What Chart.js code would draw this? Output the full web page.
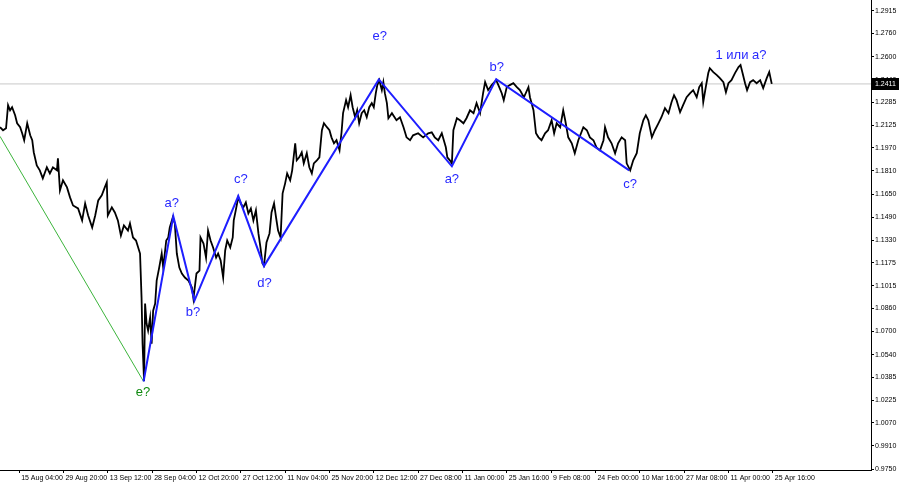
<!DOCTYPE html>
<html>
<head>
<meta charset="utf-8">
<script src="https://cdn.jsdelivr.net/npm/chart.js@4.4.1/dist/chart.umd.min.js"></script>
<style>
  html, body { margin: 0; padding: 0; background: #fff; }
  #chart { display: block; }
</style>
</head>
<body>
<canvas id="chart" width="900" height="485"></canvas>
<script>
// H4 bars counted from the left edge of the chart
const bars = [
    0, 6, 12, 16, 20, 24, 30, 34, 40, 44, 48, 54, 60, 64, 67, 73, 79, 85, 93, 99,
    105, 113, 115, 119, 125, 133, 139, 145, 155, 163, 169, 175, 183, 189, 195, 202, 208, 212, 214, 222,
    228, 234, 240, 246, 254, 258, 264, 270, 278, 281, 283, 286, 288, 291, 294, 298, 301, 304, 308, 311,
    316, 321, 324, 330, 334, 337, 343, 347, 351, 356, 361, 367, 374, 381, 384, 390, 396, 398, 404, 409,
    413, 418, 423, 429, 433, 438, 443, 447, 451, 457, 462, 464, 468, 473, 478, 483, 488, 493, 498, 503,
    508, 513, 517, 521, 524, 529, 535, 539, 544, 548, 552, 557, 561, 566, 570, 576, 580, 586, 589, 594,
    599, 603, 609, 614, 619, 623, 629, 634, 639, 643, 649, 654, 658, 663, 668, 674, 678, 681, 687, 691,
    696, 700, 705, 709, 713, 718, 723, 728, 733, 738, 742, 746, 749, 753, 758, 761, 764, 768, 771, 778,
    787, 794, 801, 807, 814, 820, 830, 840, 850, 857, 863, 870, 877, 881, 885, 888, 893, 897, 900, 907,
    913, 920, 926, 933, 940, 946, 953, 959, 963, 969, 976, 985, 991, 996, 1000, 1006, 1012, 1019, 1026, 1032,
    1040, 1049, 1052, 1059, 1064, 1069, 1075, 1082, 1088, 1095, 1100, 1105, 1112, 1118, 1122, 1128, 1135, 1141, 1148, 1158,
    1165, 1171, 1178, 1184, 1191, 1198, 1201, 1207, 1214, 1221, 1227, 1234, 1241, 1244, 1251, 1257, 1264, 1270, 1277, 1282,
    1287, 1294, 1300, 1307, 1313, 1320, 1327, 1333, 1338, 1343, 1350, 1356, 1363, 1370, 1376, 1383, 1388, 1393, 1396, 1401,
    1406, 1409, 1416, 1423, 1429, 1436, 1441, 1446, 1452, 1459, 1466, 1470, 1474, 1479, 1483, 1489, 1495, 1502, 1509, 1515,
    1522, 1527, 1532
];
const closes = [
    1.2112, 1.2091, 1.2105, 1.2264, 1.2229, 1.2250, 1.2195, 1.2139, 1.2112, 1.2070, 1.2022, 1.2139, 1.2056, 1.2022, 1.1939, 1.1848, 1.1814, 1.1758, 1.1835, 1.1793,
    1.1835, 1.1814, 1.1897, 1.1675, 1.1745, 1.1696, 1.1627, 1.1571, 1.1551, 1.1468, 1.1585, 1.1502, 1.1419, 1.1502, 1.1606, 1.1641, 1.1696, 1.1731, 1.1502, 1.1558,
    1.1523, 1.1468, 1.1364, 1.1433, 1.1398, 1.1447, 1.1350, 1.1329, 1.1239, 1.0934, 1.0616, 1.0359, 1.0893, 1.0754, 1.0706, 1.0796, 1.0616, 1.0844, 1.0893, 1.1052,
    1.1142, 1.1239, 1.1142, 1.1329, 1.1350, 1.1419, 1.1488, 1.1447, 1.1239, 1.1142, 1.1101, 1.1073, 1.1052, 1.1004, 1.0927, 1.1101, 1.1121, 1.1350, 1.1308, 1.1211,
    1.1398, 1.1329, 1.1281, 1.1211, 1.1239, 1.1191, 1.1073, 1.1260, 1.1329, 1.1281, 1.1350, 1.1468, 1.1537, 1.1627, 1.1585, 1.1558, 1.1592, 1.1516, 1.1551, 1.1468,
    1.1537, 1.1378, 1.1281, 1.1170, 1.1156, 1.1315, 1.1378, 1.1523, 1.1585, 1.1488, 1.1398, 1.1350, 1.1655, 1.1724, 1.1793, 1.1745, 1.1814, 1.2001, 1.1883, 1.1904,
    1.1939, 1.1862, 1.1932, 1.1835, 1.1793, 1.1862, 1.1883, 1.1904, 1.2091, 1.2139, 1.2112, 1.2091, 1.2042, 1.2001, 1.2022, 1.1952, 1.2077, 1.2209, 1.2299, 1.2250,
    1.2333, 1.2250, 1.2181, 1.2229, 1.2139, 1.2209, 1.2229, 1.2181, 1.2250, 1.2278, 1.2250, 1.2347, 1.2403, 1.2437, 1.2368, 1.2423, 1.2347, 1.2278, 1.2174, 1.2209,
    1.2160, 1.2181, 1.2112, 1.2042, 1.2022, 1.2056, 1.2070, 1.2042, 1.2070, 1.2077, 1.2042, 1.2022, 1.2070, 1.2022, 1.1973, 1.1904, 1.1883, 1.1862, 1.2091, 1.2174,
    1.2160, 1.2139, 1.2174, 1.2229, 1.2209, 1.2278, 1.2209, 1.2347, 1.2423, 1.2368, 1.2403, 1.2437, 1.2389, 1.2347, 1.2299, 1.2389, 1.2403, 1.2416, 1.2389, 1.2368,
    1.2319, 1.2389, 1.2319, 1.2229, 1.2070, 1.2042, 1.2022, 1.2070, 1.2091, 1.2160, 1.2070, 1.2139, 1.2112, 1.2229, 1.2160, 1.2042, 1.2001, 1.1932, 1.2022, 1.2112,
    1.2091, 1.2042, 1.2022, 1.1973, 1.1952, 1.2022, 1.2112, 1.2042, 1.2001, 1.1932, 1.2001, 1.2042, 1.2022, 1.1862, 1.1814, 1.1883, 1.1932, 1.2070, 1.2160, 1.2195,
    1.2160, 1.2042, 1.2091, 1.2139, 1.2181, 1.2243, 1.2209, 1.2285, 1.2333, 1.2299, 1.2216, 1.2264, 1.2319, 1.2347, 1.2368, 1.2319, 1.2389, 1.2416, 1.2285, 1.2389,
    1.2486, 1.2520, 1.2493, 1.2472, 1.2451, 1.2423, 1.2354, 1.2416, 1.2437, 1.2486, 1.2527, 1.2541, 1.2486, 1.2416, 1.2368, 1.2423, 1.2437, 1.2416, 1.2437, 1.2382,
    1.2451, 1.2493, 1.2411
];
const lastPrice = 1.2411;

// wave count drawn over the price
const waveBars = [285, 344, 386, 473, 524, 752, 897, 985, 1249];
const wavePrices = [1.0355, 1.1497, 1.0914, 1.1636, 1.1152, 1.2442, 1.1842, 1.2444, 1.1814];
const greenBars = [0, 285];
const greenPrices = [1.2049, 1.0355];

const labelTexts = ["e?", "a?", "b?", "c?", "d?", "e?", "a?", "b?", "c?", "1 или a?"];
const labelBars = [284, 341, 383, 478, 525, 754, 897, 986, 1251, 1471];
const labelPrices = [1.0276, 1.1585, 1.0830, 1.1752, 1.1031, 1.2742, 1.1752, 1.2527, 1.1717, 1.2610];
const labelGreen = [true, false, false, false, false, false, false, false, false, false];

// axis ticks
const xTickBars = [38, 126, 214, 302, 390, 478, 566, 654, 742, 830, 918, 1006, 1094, 1182, 1270, 1358, 1446, 1534];
const xTickLabels = ["15 Aug 04:00", "29 Aug 20:00", "13 Sep 12:00", "28 Sep 04:00", "12 Oct 20:00", "27 Oct 12:00",
    "11 Nov 04:00", "25 Nov 20:00", "12 Dec 12:00", "27 Dec 08:00", "11 Jan 00:00", "25 Jan 16:00",
    "9 Feb 08:00", "24 Feb 00:00", "10 Mar 16:00", "27 Mar 08:00", "11 Apr 00:00", "25 Apr 16:00"];
const yTicks = [1.2915, 1.2760, 1.2600, 1.2440, 1.2285, 1.2125, 1.1970, 1.1810, 1.1650, 1.1490, 1.1330,
    1.1175, 1.1015, 1.0860, 1.0700, 1.0540, 1.0385, 1.0225, 1.0070, 0.9910, 0.9750];

const axisFont = { family: "'Liberation Sans', Arial, sans-serif", size: 7 };
const BLUE = "#2828ff";
const GREEN = "#108a10";

function pts(xs, ys) {
    return xs.map((x, i) => ({ x: x, y: ys[i] }));
}

const overlay = {
    id: "overlay",
    afterDatasetsDraw(chart) {
        const ctx = chart.ctx;
        const xs = chart.scales.x;
        const ys = chart.scales.y;
        ctx.save();
        ctx.font = "13px 'Liberation Sans', Arial, sans-serif";
        ctx.textAlign = "center";
        ctx.textBaseline = "middle";
        labelTexts.forEach((t, i) => {
            ctx.fillStyle = labelGreen[i] ? GREEN : BLUE;
            ctx.fillText(t, xs.getPixelForValue(labelBars[i]), ys.getPixelForValue(labelPrices[i]));
        });
        ctx.restore();
    },
    afterDraw(chart) {
        // current price tag on the right axis
        const ctx = chart.ctx;
        const ys = chart.scales.y;
        const y = Math.round(ys.getPixelForValue(lastPrice));
        const left = chart.chartArea.right + 1;
        ctx.save();
        ctx.fillStyle = "#000";
        ctx.fillRect(left, y - 6, 27, 12);
        ctx.fillStyle = "#fff";
        ctx.font = "7px 'Liberation Sans', Arial, sans-serif";
        ctx.textAlign = "left";
        ctx.textBaseline = "middle";
        ctx.fillText(lastPrice.toFixed(4), left + 3, y);
        ctx.restore();
    }
};

new Chart(document.getElementById("chart"), {
    type: "line",
    data: {
        datasets: [
            {
                data: pts(waveBars, wavePrices),
                borderColor: "#1e1eff",
                borderWidth: 2,
                pointRadius: 0,
                order: 0
            },
            {
                data: pts(greenBars, greenPrices),
                borderColor: "#3cb43c",
                borderWidth: 1,
                pointRadius: 0,
                order: 1
            },
            {
                data: pts(bars, closes),
                borderColor: "#000",
                borderWidth: 1.8,
                pointRadius: 0,
                tension: 0,
                order: 2
            },
            {
                data: [{ x: 0, y: lastPrice }, { x: 1729, y: lastPrice }],
                borderColor: "#c8c8c8",
                borderWidth: 1,
                pointRadius: 0,
                order: 3
            }
        ]
    },
    options: {
        responsive: false,
        animation: false,
        layout: { padding: 0 },
        plugins: {
            legend: { display: false },
            tooltip: { enabled: false }
        },
        scales: {
            x: {
                type: "linear",
                min: 0,
                max: 1729,
                border: { display: true, color: "#000", width: 1 },
                grid: { drawOnChartArea: false, drawTicks: true, tickLength: 3, color: "#000" },
                ticks: {
                    autoSkip: false,
                    maxRotation: 0,
                    align: "start",
                    labelOffset: 2,
                    padding: 1,
                    color: "#000",
                    font: axisFont,
                    callback: (v, i) => xTickLabels[i]
                },
                afterBuildTicks: s => { s.ticks = xTickBars.map(v => ({ value: v })); },
                afterFit: s => { s.height = 15; s.paddingLeft = 0; s.paddingRight = 0; }
            },
            y: {
                type: "linear",
                position: "right",
                min: 0.97431,
                max: 1.29910,
                border: { display: true, color: "#000", width: 1 },
                grid: { drawOnChartArea: false, drawTicks: true, tickLength: 3, color: "#000" },
                ticks: {
                    padding: 1,
                    color: "#000",
                    font: axisFont,
                    callback: v => v.toFixed(4)
                },
                afterBuildTicks: s => { s.ticks = yTicks.map(v => ({ value: v })); },
                afterFit: s => { s.width = 29; s.paddingTop = 0; s.paddingBottom = 0; }
            }
        }
    },
    plugins: [overlay]
});
</script>
</body>
</html>
